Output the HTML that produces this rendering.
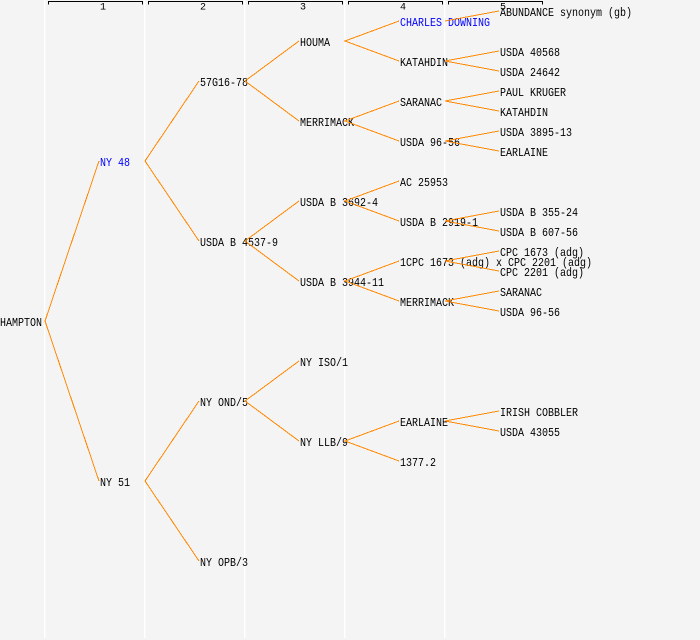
<!DOCTYPE html>
<html><head><meta charset="utf-8"><style>
html,body{margin:0;padding:0;background:#f4f4f4;}
svg{display:block;}
text{font-family:"Liberation Mono","DejaVu Sans Mono",monospace;font-size:12px;fill:#000;}
.h{font-size:10px;}
.b{fill:#0000ff;}
</style></head><body>
<svg width="700" height="640" viewBox="0 0 700 640" xmlns="http://www.w3.org/2000/svg">
<rect x="0" y="0" width="700" height="640" fill="#f4f4f4"/>
<g fill="#ffffff">
<rect x="44" y="0" width="1.3" height="638"/>
<rect x="144" y="0" width="1.3" height="638"/>
<rect x="244" y="0" width="1.3" height="638"/>
<rect x="344" y="0" width="1.3" height="638"/>
<rect x="444" y="0" width="1.3" height="638"/>
</g>
<g stroke="#000" stroke-width="1" fill="none" shape-rendering="crispEdges">
<path d="M48.5 4.5V1.5H142.5V4.5"/>
<path d="M148.5 4.5V1.5H242.5V4.5"/>
<path d="M248.5 4.5V1.5H342.5V4.5"/>
<path d="M348.5 4.5V1.5H442.5V4.5"/>
<path d="M448.5 4.5V1.5H542.5V4.5"/>
</g>
<text class="h" x="100" y="9.5">1</text>
<text class="h" x="200" y="9.5">2</text>
<text class="h" x="300" y="9.5">3</text>
<text class="h" x="400" y="9.5">4</text>
<text class="h" x="500" y="9.5">5</text>

<!-- nodes -->
<text x="0" y="326" textLength="42" lengthAdjust="spacingAndGlyphs">HAMPTON</text>
<text class="b" x="100" y="166" textLength="30" lengthAdjust="spacingAndGlyphs">NY 48</text>
<text x="100" y="486" textLength="30" lengthAdjust="spacingAndGlyphs">NY 51</text>
<text x="200" y="86" textLength="48" lengthAdjust="spacingAndGlyphs">57G16-78</text>
<text x="200" y="246" textLength="78" lengthAdjust="spacingAndGlyphs">USDA B 4537-9</text>
<text x="200" y="406" textLength="48" lengthAdjust="spacingAndGlyphs">NY OND/5</text>
<text x="200" y="566" textLength="48" lengthAdjust="spacingAndGlyphs">NY OPB/3</text>
<text x="300" y="46" textLength="30" lengthAdjust="spacingAndGlyphs">HOUMA</text>
<text x="300" y="126" textLength="54" lengthAdjust="spacingAndGlyphs">MERRIMACK</text>
<text x="300" y="206" textLength="78" lengthAdjust="spacingAndGlyphs">USDA B 3692-4</text>
<text x="300" y="286" textLength="84" lengthAdjust="spacingAndGlyphs">USDA B 3944-11</text>
<text x="300" y="366" textLength="48" lengthAdjust="spacingAndGlyphs">NY ISO/1</text>
<text x="300" y="446" textLength="48" lengthAdjust="spacingAndGlyphs">NY LLB/9</text>
<text class="b" x="400" y="26" textLength="90" lengthAdjust="spacingAndGlyphs">CHARLES DOWNING</text>
<text x="400" y="66" textLength="48" lengthAdjust="spacingAndGlyphs">KATAHDIN</text>
<text x="400" y="106" textLength="42" lengthAdjust="spacingAndGlyphs">SARANAC</text>
<text x="400" y="146" textLength="60" lengthAdjust="spacingAndGlyphs">USDA 96-56</text>
<text x="400" y="186" textLength="48" lengthAdjust="spacingAndGlyphs">AC 25953</text>
<text x="400" y="226" textLength="78" lengthAdjust="spacingAndGlyphs">USDA B 2919-1</text>
<text x="400" y="266" textLength="192" lengthAdjust="spacingAndGlyphs">1CPC 1673 (adg) x CPC 2201 (adg)</text>
<text x="400" y="306" textLength="54" lengthAdjust="spacingAndGlyphs">MERRIMACK</text>
<text x="400" y="426" textLength="48" lengthAdjust="spacingAndGlyphs">EARLAINE</text>
<text x="400" y="466" textLength="36" lengthAdjust="spacingAndGlyphs">1377.2</text>
<text x="500" y="16" textLength="132" lengthAdjust="spacingAndGlyphs">ABUNDANCE synonym (gb)</text>
<text x="500" y="56" textLength="60" lengthAdjust="spacingAndGlyphs">USDA 40568</text>
<text x="500" y="76" textLength="60" lengthAdjust="spacingAndGlyphs">USDA 24642</text>
<text x="500" y="96" textLength="66" lengthAdjust="spacingAndGlyphs">PAUL KRUGER</text>
<text x="500" y="116" textLength="48" lengthAdjust="spacingAndGlyphs">KATAHDIN</text>
<text x="500" y="136" textLength="72" lengthAdjust="spacingAndGlyphs">USDA 3895-13</text>
<text x="500" y="156" textLength="48" lengthAdjust="spacingAndGlyphs">EARLAINE</text>
<text x="500" y="216" textLength="78" lengthAdjust="spacingAndGlyphs">USDA B 355-24</text>
<text x="500" y="236" textLength="78" lengthAdjust="spacingAndGlyphs">USDA B 607-56</text>
<text x="500" y="256" textLength="84" lengthAdjust="spacingAndGlyphs">CPC 1673 (adg)</text>
<text x="500" y="276" textLength="84" lengthAdjust="spacingAndGlyphs">CPC 2201 (adg)</text>
<text x="500" y="296" textLength="42" lengthAdjust="spacingAndGlyphs">SARANAC</text>
<text x="500" y="316" textLength="60" lengthAdjust="spacingAndGlyphs">USDA 96-56</text>
<text x="500" y="416" textLength="78" lengthAdjust="spacingAndGlyphs">IRISH COBBLER</text>
<text x="500" y="436" textLength="60" lengthAdjust="spacingAndGlyphs">USDA 43055</text>

<!-- connectors -->
<g stroke="#ff8800" stroke-width="1" fill="none" shape-rendering="crispEdges">
<path d="M99 161L45 321L99 481"/>
<path d="M199 81L145 161L199 241"/>
<path d="M199 401L145 481L199 561"/>
<path d="M299 41L245 81L299 121"/>
<path d="M299 201L245 241L299 281"/>
<path d="M299 361L245 401L299 441"/>
<path d="M399 21L345 41L399 61"/>
<path d="M399 101L345 121L399 141"/>
<path d="M399 181L345 201L399 221"/>
<path d="M399 261L345 281L399 301"/>
<path d="M399 421L345 441L399 461"/>
<path d="M445 21L499 11"/>
<path d="M499 51L445 61L499 71"/>
<path d="M499 91L445 101L499 111"/>
<path d="M499 131L445 141L499 151"/>
<path d="M499 211L445 221L499 231"/>
<path d="M499 251L445 261L499 271"/>
<path d="M499 291L445 301L499 311"/>
<path d="M499 411L445 421L499 431"/>
</g>
</svg>
</body></html>
